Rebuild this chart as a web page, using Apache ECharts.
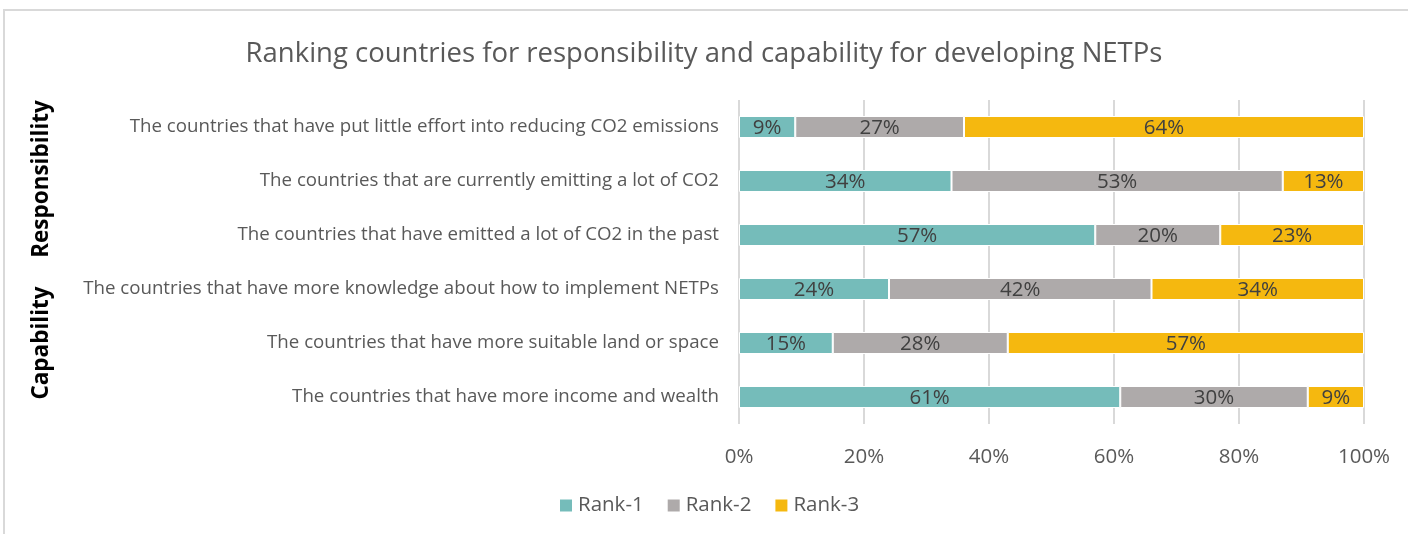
<!DOCTYPE html>
<html>
<head>
<meta charset="utf-8">
<script src="https://cdn.jsdelivr.net/npm/echarts@6/dist/echarts.min.js"></script>
<style>
  html, body { margin: 0; padding: 0; background: #fff; }
  #chart { width: 1408px; height: 534px; }
</style>
</head>
<body>
<div id="chart"></div>
<script>
// Statements ranked by respondents (top row first)
const categories = [
  'The countries that have put little effort into reducing CO2 emissions',
  'The countries that are currently emitting a lot of CO2',
  'The countries that have emitted a lot of CO2 in the past',
  'The countries that have more knowledge about how to implement NETPs',
  'The countries that have more suitable land or space',
  'The countries that have more income and wealth'
];
// Share of respondents (%) per rank
const rank1 = [9, 34, 57, 24, 15, 61];
const rank2 = [27, 53, 20, 42, 28, 30];
const rank3 = [64, 13, 23, 34, 57, 9];
const seriesNames = ['Rank-1', 'Rank-2', 'Rank-3'];
const groupLabels = ['Responsibility', 'Capability'];

const FONT = '"Open Sans"';
const colors = ['#75BCBA', '#AEAAAA', '#F5B80F'];

const chart = echarts.init(document.getElementById('chart'), null, { renderer: 'canvas' });

function barSeries(name, data, color) {
  return {
    name: name,
    type: 'bar',
    stack: 'total',
    barWidth: 22,
    data: data,
    itemStyle: { color: color, borderColor: '#ffffff', borderWidth: 1 },
    label: {
      show: true,
      position: 'inside',
      offset: [0, 1],
      formatter: '{c}%',
      color: '#404040',
      fontFamily: FONT,
      fontSize: 20.5
    },
    emphasis: { disabled: true }
  };
}

chart.setOption({
  backgroundColor: '#ffffff',
  animation: false,
  color: colors,
  title: {
    text: 'Ranking countries for responsibility and capability for developing NETPs',
    left: 'center',
    top: 35,
    textStyle: { color: '#595959', fontFamily: FONT, fontSize: 27.5, fontWeight: 'normal' }
  },
  legend: {
    bottom: 13,
    left: 553,
    itemWidth: 14,
    itemHeight: 14,
    itemGap: 22,
    icon: 'rect',
    textStyle: { color: '#595959', fontFamily: FONT, fontSize: 20.5 },
    data: seriesNames
  },
  grid: { left: 739, right: 44, top: 100, height: 324, containLabel: false },
  xAxis: {
    type: 'value',
    min: 0,
    max: 100,
    interval: 20,
    axisLine: { show: false },
    axisTick: { show: false },
    splitLine: { lineStyle: { color: '#d9d9d9', width: 2 } },
    axisLabel: {
      formatter: '{value}%',
      color: '#595959',
      fontFamily: FONT,
      fontSize: 20.5,
      margin: 23
    }
  },
  yAxis: {
    type: 'category',
    inverse: true,
    data: categories,
    axisLine: { show: false },
    axisTick: { show: false },
    axisLabel: {
      color: '#595959', fontFamily: FONT, fontSize: 18.7, margin: 20,
      padding: [3, 0, 0, 0]
    }
  },
  series: [
    barSeries(seriesNames[0], rank1, colors[0]),
    barSeries(seriesNames[1], rank2, colors[1]),
    barSeries(seriesNames[2], rank3, colors[2])
  ],
  graphic: [
    {
      type: 'rect',
      silent: true,
      shape: { x: 4, y: 10, width: 1420, height: 540 },
      style: { fill: 'none', stroke: '#d9d9d9', lineWidth: 2 }
    },
    {
      type: 'text',
      silent: true,
      x: 42, y: 179,
      rotation: Math.PI / 2,
      style: {
        text: groupLabels[0], fill: '#000000', font: 'bold 22.5px ' + FONT,
        textAlign: 'center', textVerticalAlign: 'middle'
      }
    },
    {
      type: 'text',
      silent: true,
      x: 42, y: 343,
      rotation: Math.PI / 2,
      style: {
        text: groupLabels[1], fill: '#000000', font: 'bold 22.5px ' + FONT,
        textAlign: 'center', textVerticalAlign: 'middle'
      }
    }
  ]
});
</script>
</body>
</html>
